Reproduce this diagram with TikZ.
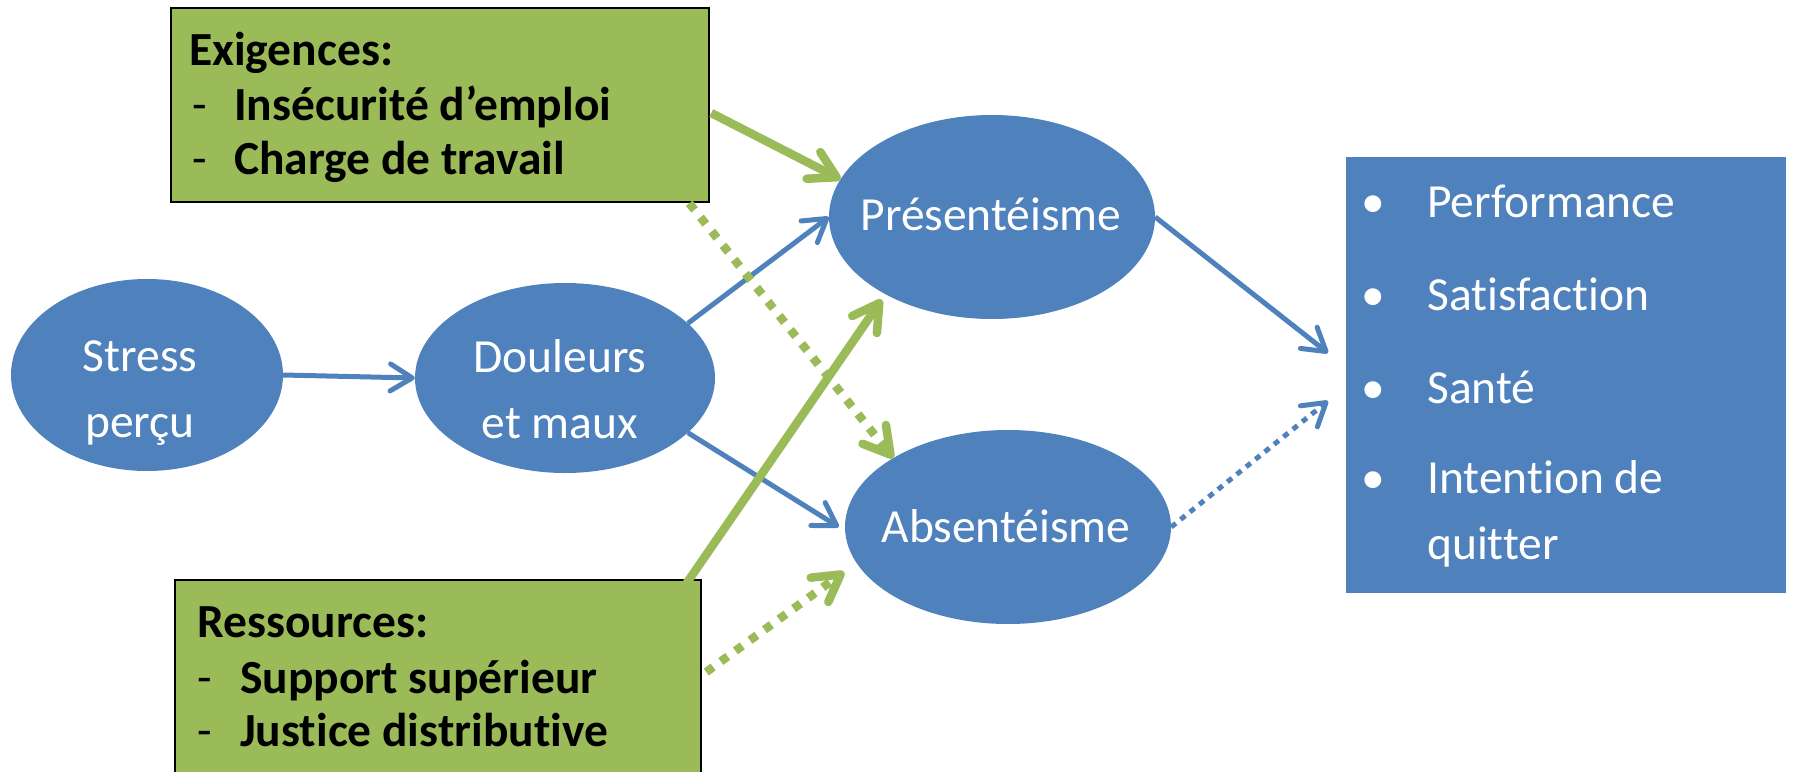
\documentclass[tikz,border=0pt]{standalone}
\usepackage{fontspec}
\setmainfont{Carlito}[Ligatures=NoCommon]
\usetikzlibrary{arrows.meta,calc,shapes.geometric}
\definecolor{pblue}{HTML}{4F81BD}
\definecolor{pgreen}{HTML}{9BBB59}
\begin{document}
\begin{tikzpicture}[x=1pt,y=-1pt,
  ell/.style={ellipse, fill=pblue, draw=none, inner sep=0pt},
  gbox/.style={rectangle, fill=pgreen, draw=black, line width=2.5pt, inner sep=0pt},
  bbox/.style={rectangle, fill=pblue, draw=none, inner sep=0pt},
  wt/.style={text=white, inner sep=0pt, anchor=base, font=\fontsize{47.5}{57}\selectfont},
  wtl/.style={wt, anchor=base west},
  bt/.style={text=black, inner sep=0pt, anchor=base west, font=\fontsize{47.5}{57}\selectfont\bfseries},
  dsh/.style={text=black, inner sep=0pt, anchor=base west, font=\fontsize{47.5}{57}\selectfont},
  barrow/.style={draw=pblue, line width=5pt, -{Straight Barb[length=22pt,width=27pt,round]}},
  bdot/.style={barrow, dash pattern=on 6pt off 6pt},
  garrow/.style={draw=pgreen, line width=8.5pt, -{Straight Barb[length=26pt,width=30pt,round]}},
  gdot/.style={garrow, dash pattern=on 8.5pt off 9.5pt}]
\useasboundingbox (0,0) rectangle (1793,771);
\clip (0,0) rectangle (1793,771);

% shapes
\node[ell, minimum width=272pt, minimum height=192pt] (stress) at (147,375) {};
\node[ell, minimum width=300pt, minimum height=190pt] (doul) at (565,378) {};
\node[ell, minimum width=326pt, minimum height=204pt] (pres) at (992,217) {};
\node[ell, minimum width=326pt, minimum height=194pt] (abs) at (1008,527) {};
\node[bbox, minimum width=440pt, minimum height=436pt] (out) at (1566,375) {};
\node[gbox, minimum width=538pt, minimum height=194pt] (exig) at (440,105) {};
\node[gbox, minimum width=526pt, minimum height=220pt] (res) at (438,690) {};

% texts in ellipses
\node[wt] (ts1) at (140,371) {Stress};
\node[wt] (ts2) at (140,437) {perçu};
\node[wt] (td1) at (560,372) {Douleurs};
\node[wt] (td2) at (560,438) {et maux};
\node[wt] (tp) at (991,230) {Présentéisme};
\node[wt] (ta) at (1006,542) {Absentéisme};

% outcome list
\node[wt] (b1) at (1373,217) {•};
\node[wtl] (o1) at (1427,217) {Performance};
\node[wt] (b2) at (1373,310) {•};
\node[wtl] (o2) at (1427,310) {Satisfaction};
\node[wt] (b3) at (1373,403) {•};
\node[wtl] (o3) at (1427,403) {Santé};
\node[wt] (b4) at (1373,493) {•};
\node[wtl] (o4) at (1427,493) {Intention de};
\node[wtl] (o5) at (1427,559) {quitter};

% green boxes texts
\node[bt] (e0) at (189,65) {Exigences:};
\node[dsh] (e1d) at (192,120) {-};
\node[bt] (e1) at (234,120) {Insécurité d’emploi};
\node[dsh] (e2d) at (192,174) {-};
\node[bt] (e2) at (234,174) {Charge de travail};
\node[bt] (r0) at (197,637) {Ressources:};
\node[dsh] (r1d) at (197,693) {-};
\node[bt] (r1) at (240,693) {Support supérieur};
\node[dsh] (r2d) at (197,746) {-};
\node[bt] (r2) at (240,746) {Justice distributive};

% free ends
\coordinate (t1) at (1328,353);
\coordinate (t2) at (1328,401);
\coordinate (t3) at (844,572);

% blue connectors
\draw[barrow] (stress.east) -- (doul.west);
\draw[barrow] (doul.24) -- (pres.west);
\draw[barrow] (doul.-24) -- ($(abs.west)+(-6,0)$);
\draw[barrow] (pres.east) -- (t1);
\draw[bdot] (abs.east) -- (t2);

% green connectors
\draw[garrow] ($(exig.east)+(1,8)$) -- (pres.166);
\draw[gdot] ($(exig.south east)+(-21,0)$) -- (abs.149);
\draw[garrow] ($(res.north east)+(-16,5)$) -- ($(pres.217)+(-6,4)$);
\draw[gdot] ($(res.east)+(4,-18)$) -- (t3);
\end{tikzpicture}
\end{document}
